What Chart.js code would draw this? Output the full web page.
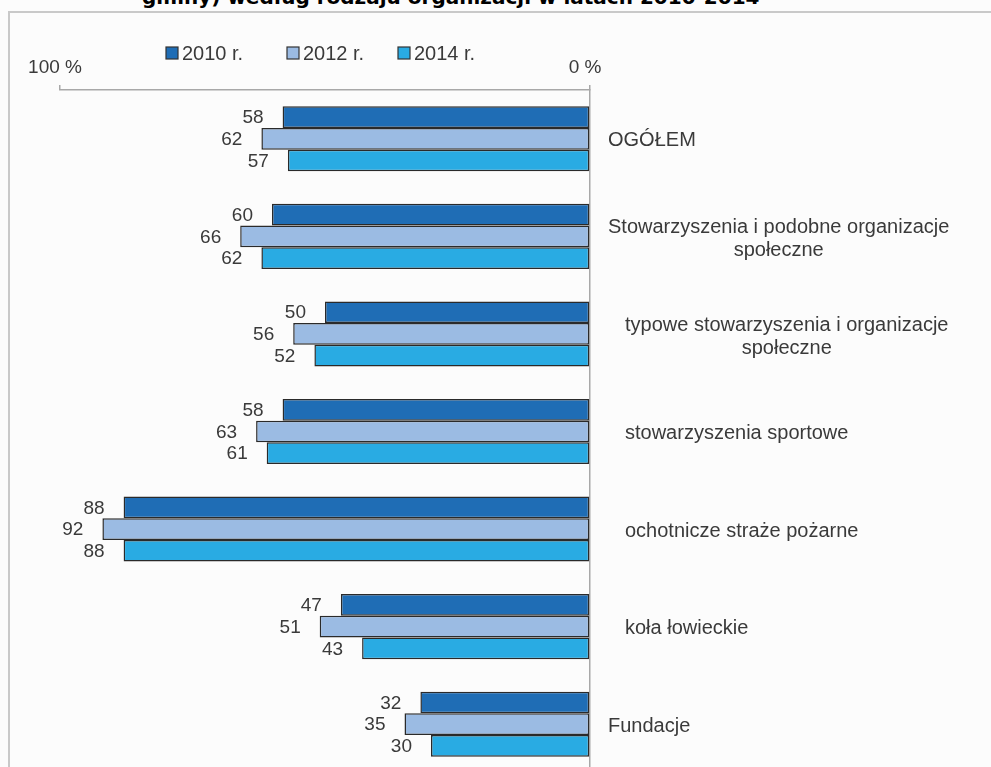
<!DOCTYPE html>
<html>
<head>
<meta charset="utf-8">
<script src="https://cdn.jsdelivr.net/npm/chart.js@4.4.1/dist/chart.umd.min.js"></script>
<style>
  html, body { margin: 0; padding: 0; background: #fcfcfc; overflow: hidden; }
  #wrap { position: relative; width: 991px; height: 767px; overflow: hidden; }
  #title {
    position: absolute; left: 142px; top: -15px; white-space: nowrap;
    font: bold 20px "DejaVu Sans", Verdana, sans-serif; color: #000;
  }
  #frame {
    position: absolute; left: 8px; top: 11px; right: -10px; bottom: -10px;
    border-left: 2px solid #c9c9c9; border-top: 2px solid #c9c9c9;
  }
  #chart-box { position: absolute; left: 0; top: 0; width: 991px; height: 773px; }
</style>
</head>
<body>
<div id="wrap">
  <div id="title">gminy) według rodzaju organizacji w latach 2010-2014</div>
  <div id="frame"></div>
  <div id="chart-box"><canvas id="chart"></canvas></div>
</div>
<script>
// categories (subcategories indented)
const categories = [
    ['OGÓŁEM'],
    ['Stowarzyszenia i podobne organizacje', 'społeczne'],
    ['typowe stowarzyszenia i organizacje', 'społeczne'],
    ['stowarzyszenia sportowe'],
    ['ochotnicze straże pożarne'],
    ['koła łowieckie'],
    ['Fundacje']
];
const indented = [false, false, true, true, true, true, false];

const years = ['2010 r.', '2012 r.', '2014 r.'];
const values2010 = [58, 60, 50, 58, 88, 47, 32];
const values2012 = [62, 66, 56, 63, 92, 51, 35];
const values2014 = [57, 62, 52, 61, 88, 43, 30];
const colors = ['#1f6db5', '#9bbbe3', '#29abe3'];
const xTicks = [0, 100];

const FONT = 'Liberation Sans, Arial, sans-serif';
const TEXT = '#3a3a3a';
const AXIS = '#a8a8a8';

// value labels, category labels and legend drawn by hand
const extras = {
    id: 'extras',
    afterDatasetsDraw(chart) {
        const ctx = chart.ctx;
        ctx.save();
        ctx.font = '19px ' + FONT;
        ctx.fillStyle = TEXT;
        ctx.textAlign = 'right';
        ctx.textBaseline = 'middle';
        chart.data.datasets.forEach((ds, i) => {
            chart.getDatasetMeta(i).data.forEach((bar, j) => {
                ctx.fillText(ds.data[j], bar.x - 19, bar.y + 1);
            });
        });

        // category labels right of the axis
        ctx.font = '20px ' + FONT;
        const yScale = chart.scales.y;
        const x0 = chart.chartArea.right + 18;
        const lineH = 23;
        categories.forEach((lines, j) => {
            const yc = yScale.getPixelForValue(j);
            const left = x0 + (indented[j] ? 17 : 0);
            const widths = lines.map(l => ctx.measureText(l).width);
            const w = Math.max(...widths);
            ctx.textAlign = 'center';
            const top = yc - (lines.length - 1) * lineH / 2 + (lines.length > 1 ? 3 : 2);
            lines.forEach((l, k) => {
                ctx.fillText(l, left + w / 2, top + k * lineH);
            });
        });

        // legend
        const lx = [166, 287, 398];
        const ly = 53;
        ctx.textAlign = 'left';
        chart.data.datasets.forEach((ds, i) => {
            ctx.fillStyle = ds.backgroundColor;
            ctx.fillRect(lx[i], ly - 6, 12, 12);
            ctx.strokeStyle = '#333';
            ctx.lineWidth = 1.2;
            ctx.strokeRect(lx[i], ly - 6, 12, 12);
            ctx.fillStyle = TEXT;
            ctx.fillText(ds.label, lx[i] + 16, ly + 1);
        });
        ctx.restore();
    }
};

new Chart(document.getElementById('chart'), {
    type: 'bar',
    data: {
        labels: categories,
        datasets: [
            { label: years[0], data: values2010, backgroundColor: colors[0] },
            { label: years[1], data: values2012, backgroundColor: colors[1] },
            { label: years[2], data: values2014, backgroundColor: colors[2] }
        ].map(d => Object.assign(d, {
            borderColor: '#2a2a2a',
            borderWidth: 1.5,
            borderSkipped: false,
            barPercentage: 1,
            categoryPercentage: 0.667
        }))
    },
    options: {
        indexAxis: 'y',
        responsive: true,
        maintainAspectRatio: false,
        animation: false,
        layout: { padding: { left: 60, right: 0, top: 0, bottom: 0 } },
        plugins: {
            legend: { display: false },
            tooltip: { enabled: false }
        },
        scales: {
            x: {
                position: 'top',
                min: 0,
                max: 100,
                reverse: true,
                afterBuildTicks: scale => { scale.ticks = xTicks.map(v => ({ value: v })); },
                afterFit: scale => { scale.height = 90; },
                ticks: {
                    callback: v => v + ' %',
                    font: { family: FONT, size: 19 },
                    color: TEXT,
                    padding: 6,
                    labelOffset: -5,
                    maxRotation: 0
                },
                grid: {
                    display: true,
                    drawOnChartArea: false,
                    tickLength: 5,
                    color: AXIS,
                    lineWidth: 1.5
                },
                border: { display: true, color: AXIS, width: 1.5 }
            },
            y: {
                position: 'right',
                afterFit: scale => { scale.width = 401; },
                ticks: { display: false },
                grid: { display: false },
                border: { display: true, color: AXIS, width: 1.5 }
            }
        }
    },
    plugins: [extras]
});
</script>
</body>
</html>
